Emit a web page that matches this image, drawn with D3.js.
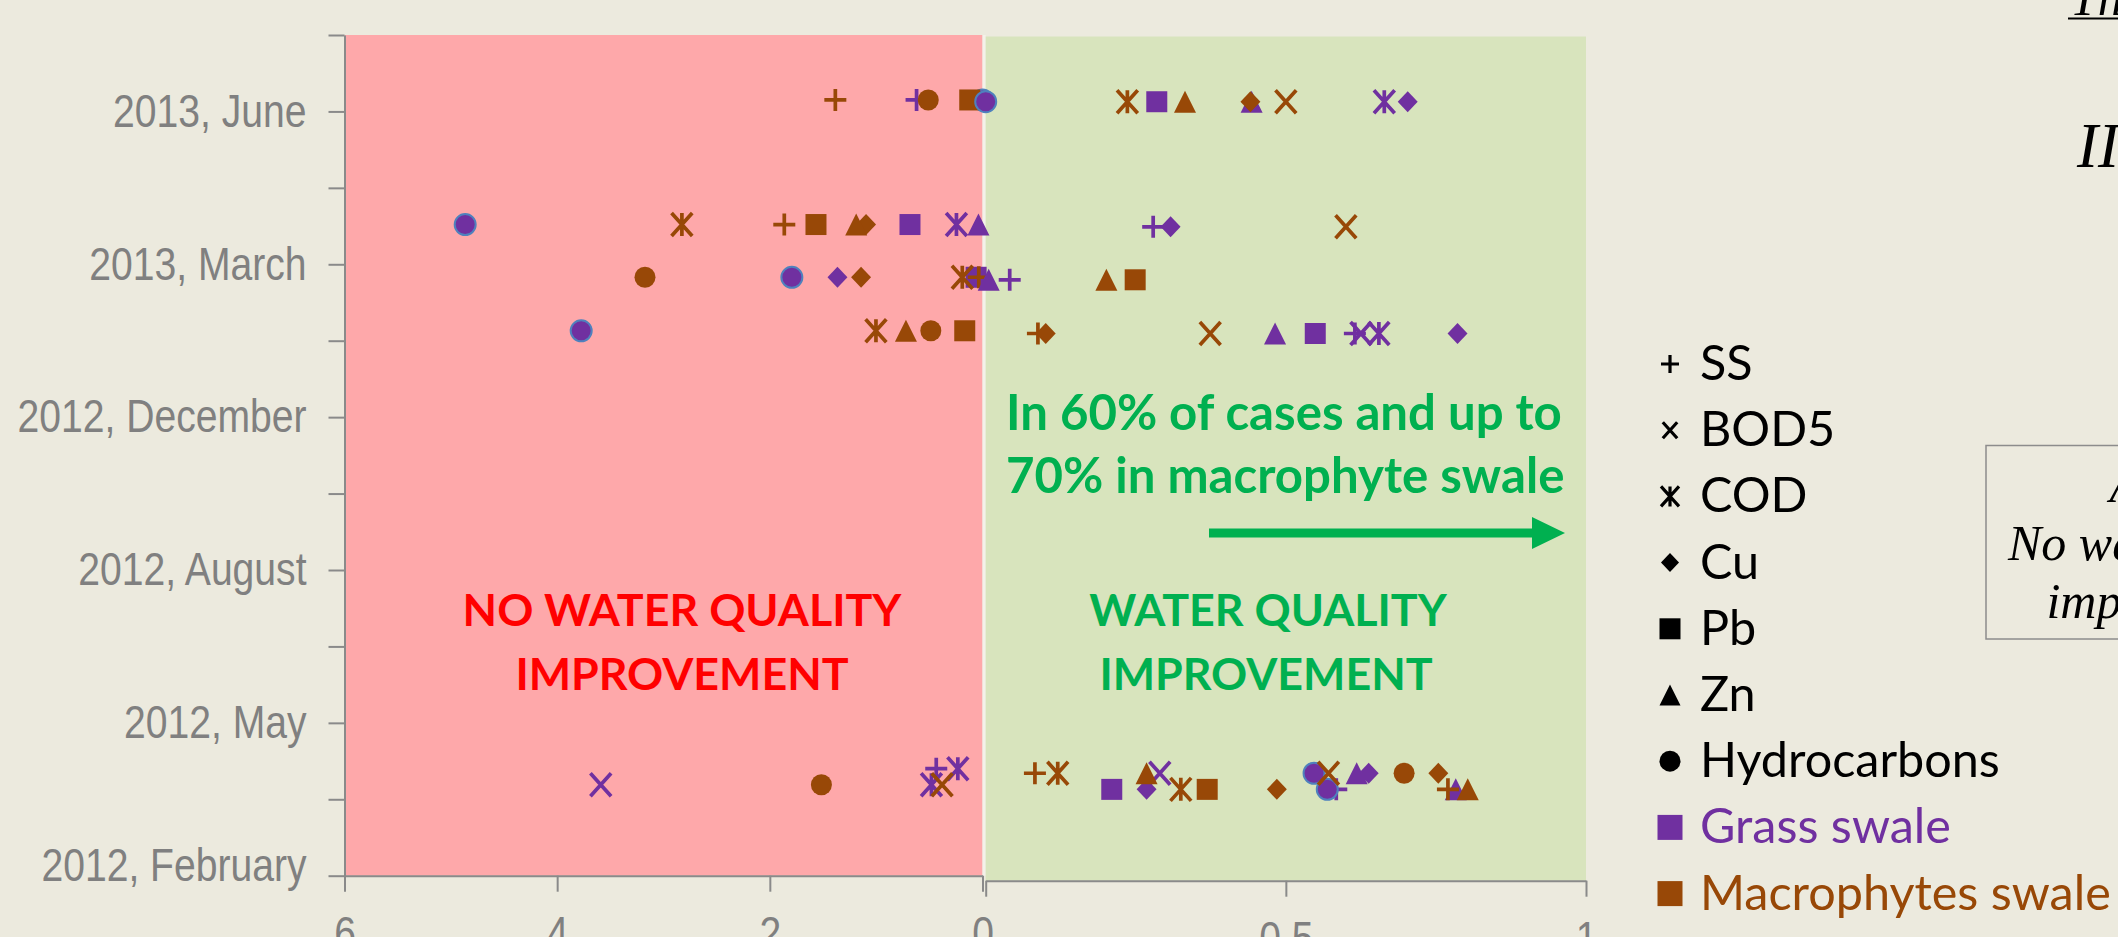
<!DOCTYPE html>
<html>
<head>
<meta charset="utf-8">
<script src="https://cdn.jsdelivr.net/npm/d3@7"></script>
<style>
  html, body { margin: 0; padding: 0; background: #ECEADE; overflow: hidden; }
  svg { display: block; }
</style>
</head>
<body>
<div id="chart"></div>
<script>
// y axis: one unit per tick, 2012 February = 0, a label every second tick
const dateLabels = ['2012, February', '2012, May', '2012, August', '2012, December', '2013, March', '2013, June'];
// sampling campaigns (y units), top row first
const sampleDates = [10.15, 8.52, 7.83, 7.13, 1.40, 1.19];

const leftTicks = [-6, -4, -2, 0];
const rightTicks = [0, 0.5, 1];

const parameters = ['SS', 'BOD5', 'COD', 'Cu', 'Pb', 'Zn', 'Hydrocarbons'];
const markerTypes = ['plus', 'cross', 'asterisk', 'diamond', 'square', 'triangle', 'circle'];

// removal efficiency per campaign, negative = no improvement (left panel)
const grassSS   = [-0.62, 0.279, 0.04, 0.615, -0.435, 0.584];
const grassBOD5 = [null, null, null, 0.625, 0.29, -3.59];
const grassCOD  = [0.664, -0.245, null, 0.655, -0.232, -0.48];
const grassCu   = [0.703, 0.308, -1.364, 0.786, 0.638, 0.268];
const grassPb   = [0.285, -0.682, -0.06, 0.549, null, 0.21];
const grassZn   = [0.443, -0.038, 0.005, 0.482, 0.618, 0.783];
const grassHC   = [0, -4.865, -1.793, -3.774, 0.547, 0.569];

const macroSS   = [-1.384, -1.864, -0.035, 0.087, 0.082, 0.77];
const macroBOD5 = [0.5, 0.6, null, 0.374, 0.571, -0.38];
const macroCOD  = [0.236, -2.827, -0.19, -1.002, 0.12, 0.325];
const macroCu   = [0.441, -1.095, -1.142, 0.1, 0.754, 0.485];
const macroPb   = [-0.12, -1.566, 0.249, -0.167, null, 0.369];
const macroZn   = [0.332, -1.188, 0.201, -0.72, 0.268, 0.803];
const macroHC   = [-0.51, null, -3.174, -0.486, 0.697, -1.515];

const swales = [
  { name: 'Grass swale', color: '#7030A0', values: [grassSS, grassBOD5, grassCOD, grassCu, grassPb, grassZn, grassHC] },
  { name: 'Macrophytes swale', color: '#984807', values: [macroSS, macroBOD5, macroCOD, macroCu, macroPb, macroZn, macroHC] }
];

const width = 2118, height = 937;
const axisColor = '#8A8A8A';
const labelColor = '#808080';
const axisFont = '"Liberation Sans", Arial, sans-serif';
const narrow = 0.85; // squeeze Arial into an Arial Narrow look
const calibriLike = 'Lato, "Open Sans", sans-serif';
const serif = '"Liberation Serif", "DejaVu Serif", serif';

const svg = d3.select('#chart').append('svg')
  .attr('width', width)
  .attr('height', height)
  .attr('viewBox', `0 0 ${width} ${height}`);

svg.append('rect').attr('width', width).attr('height', height).attr('fill', '#ECEADE');

// two overlaid charts: left one for losses, right one for removal 0..1
const yLeft = d3.scaleLinear().domain([0, 11]).range([875.7, 35]);
const yRight = d3.scaleLinear().domain([0, 11]).range([880.7, 36.5]);
const xLeft = d3.scaleLinear().domain([-6, 0]).range([344.5, 982.5]);
const xRight = d3.scaleLinear().domain([0, 1]).range([985.7, 1586]);

svg.append('rect')
  .attr('x', xLeft(-6)).attr('y', yLeft(11))
  .attr('width', xLeft(0) - xLeft(-6)).attr('height', yLeft(0) - yLeft(11))
  .attr('fill', '#FEA8AA');
svg.append('rect')
  .attr('x', xLeft(0)).attr('y', yLeft(11))
  .attr('width', xRight(0) - xLeft(0)).attr('height', yLeft(0) - yLeft(11))
  .attr('fill', '#F4F1E9');
svg.append('rect')
  .attr('x', xRight(0)).attr('y', yRight(11))
  .attr('width', xRight(1) - xRight(0)).attr('height', yRight(0) - yRight(11))
  .attr('fill', '#D8E4BD');

function styleAxis(g) {
  g.select('.domain').attr('stroke', axisColor).attr('stroke-width', 2);
  g.selectAll('.tick line').attr('stroke', axisColor).attr('stroke-width', 2);
  g.selectAll('.tick text')
    .attr('fill', labelColor)
    .attr('font-family', axisFont)
    .attr('font-size', 46)
    .attr('transform', `scale(${narrow},1)`);
}

const yAxisG = svg.append('g')
  .attr('transform', `translate(${xLeft(-6)},0)`)
  .call(d3.axisLeft(yLeft)
    .tickValues(d3.range(0, 12))
    .tickSize(16).tickSizeOuter(0).tickPadding(22)
    .tickFormat(d => (d % 2 === 0 && d < 11) ? dateLabels[d / 2] : ''))
  .call(styleAxis);
yAxisG.selectAll('.tick text').attr('x', -38 / narrow);
// the bottom label sits a little higher, clear of the x axis
yAxisG.selectAll('.tick').filter(d => d === 0).select('text').attr('y', -10);

const xLeftG = svg.append('g')
  .attr('transform', `translate(0,${yLeft(0)})`)
  .call(d3.axisBottom(xLeft)
    .tickValues(leftTicks)
    .tickSize(16).tickSizeOuter(0).tickPadding(25)
    .tickFormat(d => Math.abs(d)))
  .call(styleAxis);

const xRightG = svg.append('g')
  .attr('transform', `translate(0,${yRight(0)})`)
  .call(d3.axisBottom(xRight)
    .tickValues(rightTicks)
    .tickSize(16).tickSizeOuter(0).tickPadding(25)
    .tickFormat(d => d === 0 ? '' : d))
  .call(styleAxis);

// marker shapes
function markerPath(type, s) {
  const h = s / 2;
  const cross = `M${-h * 0.9},${-h}L${h * 0.9},${h}M${-h * 0.9},${h}L${h * 0.9},${-h}`;
  switch (type) {
    case 'plus': return `M${-h},0H${h}M0,${-h}V${h}`;
    case 'cross': return cross;
    case 'asterisk': return cross + `M0,${-h}V${h}`;
    case 'diamond': return `M0,${-h}L${h * 0.95},0L0,${h}L${-h * 0.95},0Z`;
    case 'square': return `M${-h},${-h}H${h}V${h}H${-h}Z`;
    case 'triangle': return `M0,${-h}L${h},${h}L${-h},${h}Z`;
    default: return `M${h},0A${h},${h} 0 1,1 ${-h},0A${h},${h} 0 1,1 ${h},0Z`;
  }
}
const lineTypes = ['plus', 'cross', 'asterisk'];
const plotSize = { plus: 22, cross: 23, asterisk: 23, diamond: 21, square: 21, triangle: 22, circle: 21 };
const legendSize = { plus: 18, cross: 16, asterisk: 20, diamond: 19, square: 21, triangle: 21, circle: 21 };

function drawMarker(sel, type, size, color, sw, outline) {
  const isLine = lineTypes.includes(type);
  sel.attr('d', markerPath(type, size))
    .attr('fill', isLine ? 'none' : color)
    .attr('stroke', isLine ? color : (outline || 'none'))
    .attr('stroke-width', isLine ? sw : (outline ? 2 : 0));
}

const panels = [
  { x: xLeft, y: yLeft, keep: v => v <= 0 },
  { x: xRight, y: yRight, keep: v => v >= 0 }
];

panels.forEach(panel => {
  swales.forEach((swale, si) => {
    parameters.forEach((param, pi) => {
      const type = markerTypes[pi];
      const pts = swale.values[pi]
        .map((v, i) => ({ v, date: sampleDates[i] }))
        .filter(d => d.v !== null && panel.keep(d.v));
      svg.append('g').selectAll('path')
        .data(pts)
        .join('path')
        .attr('transform', d => `translate(${panel.x(d.v)},${panel.y(d.date)})`)
        .each(function () {
          drawMarker(d3.select(this), type, plotSize[type], swale.color, 3.7,
            (type === 'circle' && si === 0) ? '#4F81BD' : null);
        });
    });
  });
});

function fitWidth(sel, target) {
  const w = sel.node().getComputedTextLength();
  const fs = parseFloat(sel.attr('font-size'));
  return fs * target / w;
}

// zone captions
const red = '#FF0000', green = '#00B050';
const noImp = svg.append('g').attr('font-family', calibriLike).attr('font-weight', 700)
  .attr('fill', red).attr('text-anchor', 'middle');
const noL1 = noImp.append('text').attr('x', 682).attr('y', 626).attr('font-size', 46).text('NO WATER QUALITY');
const noL2 = noImp.append('text').attr('x', 682).attr('y', 690).attr('font-size', 46).text('IMPROVEMENT');
const noFs = fitWidth(noL1, 439);
noL1.attr('font-size', noFs); noL2.attr('font-size', noFs);

const imp = svg.append('g').attr('font-family', calibriLike).attr('font-weight', 700)
  .attr('fill', green).attr('text-anchor', 'middle');
const impL1 = imp.append('text').attr('x', 1268).attr('y', 626).attr('font-size', 46).text('WATER QUALITY');
const impL2 = imp.append('text').attr('x', 1266).attr('y', 690).attr('font-size', 46).text('IMPROVEMENT');
impL1.attr('font-size', noFs); impL2.attr('font-size', noFs);

const note = svg.append('g').attr('font-family', calibriLike).attr('font-weight', 700).attr('fill', green);
const noteL1 = note.append('text').attr('x', 1006).attr('y', 430).attr('font-size', 46).text('In 60% of cases and up to');
const noteL2 = note.append('text').attr('x', 1006).attr('y', 493).attr('font-size', 46).text('70% in macrophyte swale');
const noteFs = fitWidth(noteL1, 556);
noteL1.attr('font-size', noteFs); noteL2.attr('font-size', noteFs);

svg.append('line').attr('x1', 1209).attr('x2', 1536).attr('y1', 533).attr('y2', 533)
  .attr('stroke', green).attr('stroke-width', 9);
svg.append('path').attr('d', 'M1532,517L1565,533L1532,549Z').attr('fill', green);

// legend
const legendItems = parameters.map((p, i) => ({ label: p, type: markerTypes[i], color: '#000000', text: '#000000' }))
  .concat(swales.map(s => ({ label: s.name, type: 'swale', color: s.color, text: s.color })));
const legend = svg.append('g');
const rows = legend.selectAll('g').data(legendItems).join('g')
  .attr('transform', (d, i) => `translate(1670,${380 + i * 66.2})`);
rows.append('path')
  .attr('transform', 'translate(0,-16)')
  .each(function (d) {
    if (d.type === 'swale') drawMarker(d3.select(this), 'square', 25, d.color, 0, null);
    else drawMarker(d3.select(this), d.type, legendSize[d.type], d.color, 3.2, null);
  });
const legendTexts = rows.append('text')
  .attr('x', 30)
  .attr('font-family', calibriLike)
  .attr('font-size', 48)
  .attr('fill', d => d.text)
  .text(d => d.label);
const legFs = fitWidth(legendTexts.filter(d => d.label === 'Hydrocarbons'), 300);
legendTexts.attr('font-size', legFs);

// cut-off slide elements at the right edge
const edge = svg.append('g').attr('font-family', serif).attr('font-style', 'italic').attr('fill', '#000');
edge.append('text').attr('x', 2070).attr('y', 15).attr('font-size', 50).text('The');
edge.append('line').attr('x1', 2068).attr('x2', width).attr('y1', 18.5).attr('y2', 18.5)
  .attr('stroke', '#000').attr('stroke-width', 2);
edge.append('text').attr('x', 2077).attr('y', 167).attr('font-size', 63).text('III');
edge.append('rect').attr('x', 1986).attr('y', 445.5).attr('width', 400).attr('height', 193.5)
  .attr('fill', 'none').attr('stroke', '#8C8C8C').attr('stroke-width', 1.5);
['Area 1', 'No water quality', 'improvement'].forEach((t, i) => {
  edge.append('text').attr('x', 2176).attr('y', 502 + i * 58).attr('font-size', 50)
    .attr('text-anchor', 'middle').text(t);
});
</script>
</body>
</html>
